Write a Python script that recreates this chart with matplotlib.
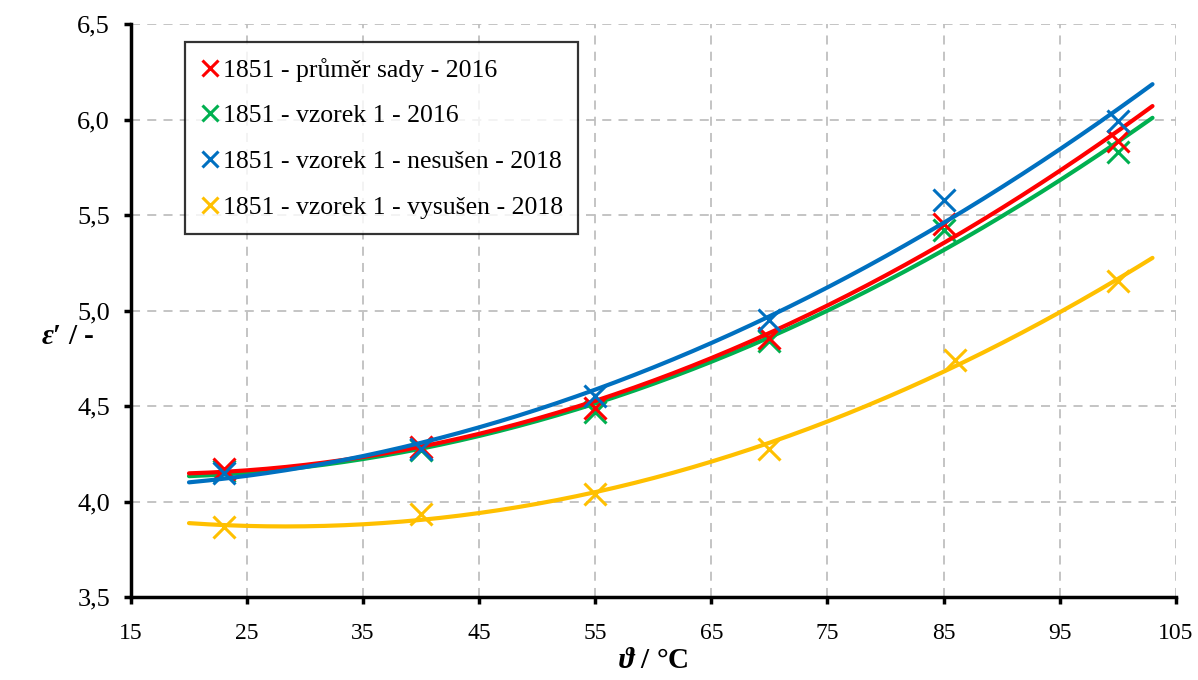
import numpy as np
import matplotlib.pyplot as plt
from matplotlib.ticker import FuncFormatter, MultipleLocator

# measured points (temperature in degC, relative permittivity)
t_main = [23, 40, 55, 70, 85, 100]
t_dry = [23, 40, 55, 70, 86, 100]
eps_prumer = [4.17, 4.285, 4.49, 4.855, 5.455, 5.89]
eps_v1 = [4.16, 4.27, 4.47, 4.84, 5.42, 5.83]
eps_nesusen = [4.15, 4.275, 4.55, 4.95, 5.58, 5.99]
eps_vysusen = [3.865, 3.935, 4.04, 4.275, 4.74, 5.156]
xticks = [15, 25, 35, 45, 55, 65, 75, 85, 95, 105]

labels = ['1851 - průměr sady - 2016',
          '1851 - vzorek 1 - 2016',
          '1851 - vzorek 1 - nesušen - 2018',
          '1851 - vzorek 1 - vysušen - 2018']
colors = ['#FF0000', '#00B050', '#0070C0', '#FFC000']
zord = [4, 3, 5, 3]

plt.rcParams['font.family'] = 'Liberation Serif'
plt.rcParams['mathtext.fontset'] = 'custom'
plt.rcParams['mathtext.rm'] = 'Liberation Serif:bold'
plt.rcParams['mathtext.it'] = 'Liberation Serif:italic:bold'
plt.rcParams['mathtext.bf'] = 'Liberation Serif:bold'
plt.rcParams['mathtext.fallback'] = 'stix'

fig = plt.figure(figsize=(11.98, 6.8), dpi=100)
ax = fig.add_axes([0.1093, 0.122, 0.8721, 0.8427])

series = [(t_main, eps_prumer), (t_main, eps_v1), (t_main, eps_nesusen), (t_dry, eps_vysusen)]
tt = np.linspace(20, 103, 200)
for (t, e), lab, c, z in zip(series, labels, colors, zord):
    # 2nd order trendline as in the spreadsheet
    p = np.polyfit(t, e, 2)
    ax.plot(tt, np.polyval(p, tt), color=c, lw=3.0, solid_capstyle='round', zorder=z)
    ax.plot(t, e, ls='none', marker='x', ms=16, mew=2.2, color=c, label=lab, zorder=z)

ax.set_xlim(15, 105)
ax.set_ylim(3.5, 6.5)
ax.set_xticks(xticks)
ax.yaxis.set_major_locator(MultipleLocator(0.5))
ax.yaxis.set_major_formatter(FuncFormatter(lambda v, pos: ('%.1f' % v).replace('.', ',')))
ax.grid(True, color='#BFBFBF', ls=(0, (5, 4)), lw=1.3, zorder=0)
ax.set_axisbelow(True)
for s in ['top', 'right']:
    ax.spines[s].set_visible(False)
for s in ['left', 'bottom']:
    ax.spines[s].set_linewidth(2.5)
ax.tick_params(direction='out', length=5, width=2.5)
ax.tick_params(axis='x', labelsize=17, pad=14)
ax.tick_params(axis='y', labelsize=19, pad=10)

ax.set_xlabel(r"$\vartheta$ / °C", fontsize=21, fontweight='bold')
ax.xaxis.set_label_coords(0.5, -0.11)
ax.xaxis.label.set_va('center')
ax.set_ylabel("$\\varepsilon$\u2032 / -", fontsize=21, fontweight='bold', rotation=0)
ax.yaxis.set_label_coords(-0.06, 0.455)
ax.yaxis.label.set_va('center')
ax.yaxis.label.set_ha('center')

leg = ax.legend(loc='upper left', bbox_to_anchor=(0.052, 0.968), fontsize=18.5, frameon=True,
                fancybox=False, edgecolor='black', handlelength=0.7, handletextpad=0.15,
                labelspacing=0.88, borderpad=0.6, borderaxespad=0, markerscale=0.72)
leg.get_frame().set_linewidth(1.6)

fig.savefig('out.png', dpi=100)
